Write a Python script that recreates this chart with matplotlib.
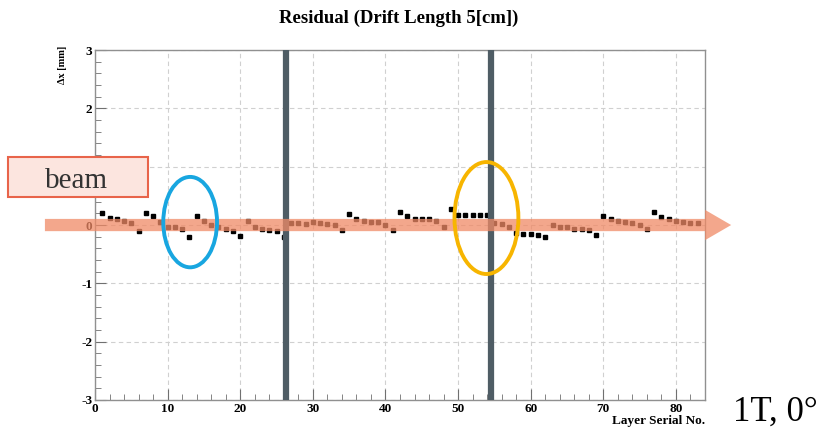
import matplotlib
matplotlib.use("Agg")
import matplotlib.pyplot as plt
from matplotlib.patches import Ellipse, FancyArrow, Rectangle
from matplotlib.ticker import MultipleLocator

# Residual per layer (mm)
layers = list(range(1, 84))
residual = [
    0.20, 0.12, 0.10, 0.07, 0.03, -0.10, 0.20, 0.15, 0.05, -0.03,
    -0.03, -0.07, -0.20, 0.16, 0.07, 0.00, -0.03, -0.06, -0.10, -0.19,
    0.07, -0.04, -0.06, -0.09, -0.10, -0.20, 0.03, 0.03, 0.01, 0.05,
    0.03, 0.01, 0.00, -0.09, 0.19, 0.11, 0.07, 0.06, 0.06, 0.00,
    -0.09, 0.23, 0.16, 0.10, 0.10, 0.10, 0.07, -0.04, 0.27, 0.17,
    0.17, 0.17, 0.17, 0.18, 0.03, 0.02, -0.04, -0.13, -0.16, -0.16,
    -0.17, -0.20, 0.00, -0.03, -0.04, -0.06, -0.07, -0.09, -0.17, 0.15,
    0.10, 0.07, 0.06, 0.03, 0.00, -0.06, 0.23, 0.14, 0.10, 0.07,
    0.06, 0.03, 0.03,
]
boundaries = [26.3, 54.5]

plt.rcParams["axes.unicode_minus"] = False
serif = "Liberation Serif"
fig = plt.figure(figsize=(8.27, 4.32), dpi=100)
ax = fig.add_axes([0.1149, 0.0741, 0.7376, 0.810])

ax.set_xlim(0, 84)
ax.set_ylim(-3, 3)
ax.grid(True, color="#d0d0d0", linestyle=(0, (4, 3)), linewidth=0.8)
ax.set_axisbelow(True)

ax.plot(layers, residual, "s", color="black", markersize=3.2, zorder=3)

for b in boundaries:
    ax.axvline(b, color="#4f5d65", linewidth=4.5, zorder=4)

# ROOT-like frame and ticks
for s in ax.spines.values():
    s.set_color("#909090")
    s.set_linewidth(1.0)
ax.xaxis.set_major_locator(MultipleLocator(10))
ax.xaxis.set_minor_locator(MultipleLocator(2))
ax.yaxis.set_major_locator(MultipleLocator(1))
ax.yaxis.set_minor_locator(MultipleLocator(0.2))
ax.tick_params(which="both", direction="in", color="#707070", top=False, right=False)
ax.tick_params(which="major", length=8, labelsize=9.5, pad=2)
ax.tick_params(which="minor", length=4)
for lab in ax.get_xticklabels() + ax.get_yticklabels():
    lab.set_fontfamily(serif)
    lab.set_fontweight("bold")

fig.text(0.482, 0.958, "Residual (Drift Length 5[cm])", ha="center", va="center",
         fontsize=13.5, fontweight="bold", family=serif)
fig.text(0.075, 0.85, "\u0394x [mm]", rotation=90, ha="center", va="center",
         fontsize=7.5, fontweight="bold", family=serif)
fig.text(0.853, 0.025, "Layer Serial No.", ha="right", va="center",
         fontsize=9.5, fontweight="bold", family=serif)

# beam arrow
arrow = FancyArrow(-6.9, 0, 94.5, 0, width=0.21, head_width=0.52, head_length=3.6,
                   length_includes_head=True, color="#f08a66", alpha=0.75,
                   linewidth=0, clip_on=False, zorder=5)
ax.add_patch(arrow)

# ellipses
ax.add_patch(Ellipse((13.1, 0.05), 7.4, 1.55, fill=False, edgecolor="#18a6e0",
                     linewidth=2.8, clip_on=False, zorder=6))
ax.add_patch(Ellipse((53.9, 0.12), 8.8, 1.92, fill=False, edgecolor="#f7b500",
                     linewidth=2.8, clip_on=False, zorder=6))

# beam label box
fig.patches.append(Rectangle((0.0097, 0.544), 0.169, 0.093, transform=fig.transFigure,
                             facecolor="#fce5df", edgecolor="#e8644a", linewidth=1.5))
fig.text(0.093, 0.582, "beam", ha="center", va="center", fontsize=21,
         family=serif, color="#333333")

fig.text(0.937, 0.045, "1T, 0\u00b0", ha="center", va="center", fontsize=25,
         family=serif, color="black")

fig.savefig("out.png", dpi=100)
